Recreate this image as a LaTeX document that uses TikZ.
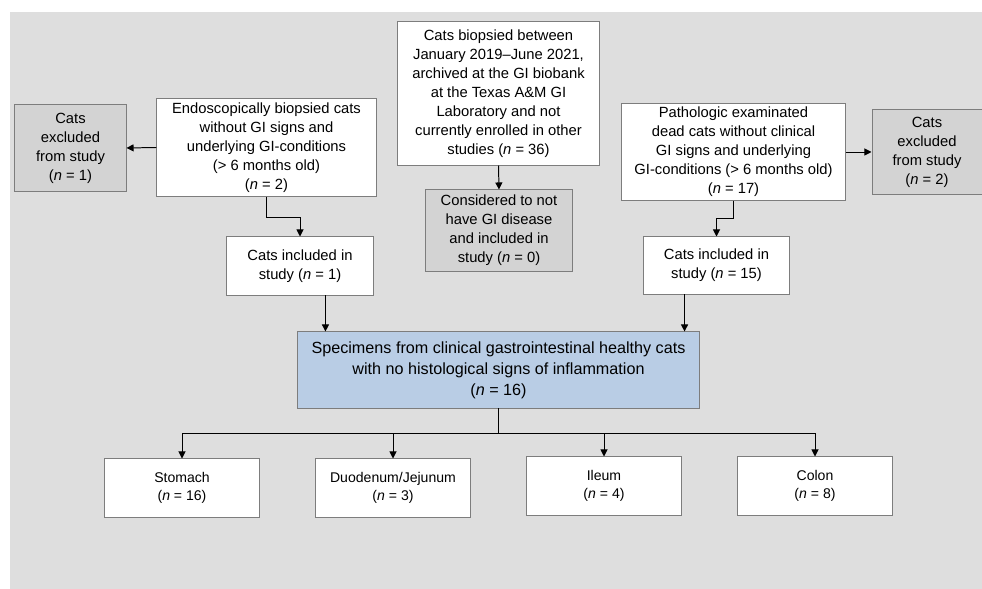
\documentclass[tikz,border=0pt]{standalone}
\usepackage{fontspec}
\setmainfont{Liberation Sans}
\usetikzlibrary{arrows.meta, calc, positioning}
\definecolor{bg_gray}{RGB}{222,222,222}
\definecolor{box_gray}{RGB}{211,211,211}
\definecolor{box_blue}{RGB}{185,205,229}
\definecolor{line_gray}{RGB}{125,125,125}

\begin{document}
\begin{tikzpicture}[x=0.025cm, y=-0.025cm, >={Triangle[length=5pt, width=5pt]},
    every node/.style={rectangle, draw=line_gray, line width=0.7pt, inner sep=0pt, align=center, font=\fontsize{10.5}{13.5}\selectfont},
    whitebox/.style={fill=white},
    greybox/.style={fill=box_gray},
    specbox/.style={fill=box_blue, font=\fontsize{11.5}{15}\selectfont},
    organbox/.style={fill=white, minimum width=3.85cm, minimum height=1.45cm, font=\fontsize{10}{13}\selectfont}]
      \useasboundingbox (0,0) rectangle (982,589);
      \fill[bg_gray] (10,12) rectangle (982,589);
      % left branch
      \node[greybox, minimum width=2.775cm, minimum height=2.15cm] (exL) at (70.5,148) {Cats\\excluded\\from study\\(\textit{n} = 1)};
      \node[whitebox, minimum width=5.475cm, minimum height=2.425cm] (endo) at (266.5,147.5) {Endoscopically biopsied cats\\without GI signs and\\underlying GI-conditions\\(> 6 months old)\\(\textit{n} = 2)};
      \node[whitebox, minimum width=3.65cm, minimum height=1.45cm] (incL) at (300,266) {Cats included in\\study (\textit{n} = 1)};
      % middle branch
      \node[whitebox, minimum width=5.025cm, minimum height=3.575cm] (top) at (498.5,93.5) {Cats biopsied between\\January 2019–June 2021,\\archived at the GI biobank\\at the Texas A\&M GI\\Laboratory and not\\currently enrolled in other\\studies (\textit{n} = 36)};
      \node[greybox, minimum width=3.65cm, minimum height=2.025cm] (cons) at (499,230.5) {Considered to not\\have GI disease\\and included in\\study (\textit{n} = 0)};
      % right branch
      \node[whitebox, minimum width=5.575cm, minimum height=2.4cm] (path) at (733.5,152) {Pathologic examinated\\dead cats without clinical\\GI signs and underlying\\GI-conditions (> 6 months old)\\(\textit{n} = 17)};
      \node[greybox, minimum width=2.75cm, minimum height=2.1cm] (exR) at (927,152) {Cats\\excluded\\from study\\(\textit{n} = 2)};
      \node[whitebox, minimum width=3.625cm, minimum height=1.425cm] (incR) at (716.5,265.5) {Cats included in\\study (\textit{n} = 15)};
      % pooled specimens
      \node[specbox, minimum width=10.025cm, minimum height=1.9cm] (spec) at (498.5,370) {Specimens from clinical gastrointestinal healthy cats\\with no histological signs of inflammation\\(\textit{n} = 16)};
      \node[organbox] (stomach) at (182,488) {Stomach\\(\textit{n} = 16)};
      \node[organbox] (duodenum) at (393,488) {Duodenum/Jejunum\\(\textit{n} = 3)};
      \node[organbox] (ileum) at (604,486) {Ileum\\(\textit{n} = 4)};
      \node[organbox] (colon) at (815,486) {Colon\\(\textit{n} = 8)};

      \draw[->, line width=0.7pt] (endo.west) -- (exL.east);
      \draw[->, line width=0.7pt] (endo.south) -- ++(0,21) -| (incL.north);
      \draw[->, line width=0.7pt] (top.south) -- (cons.north);
      \draw[->, line width=0.7pt] (path.east) -- (exR.west);
      \draw[->, line width=0.7pt] (path.south) -- ++(0,18) -| (incR.north);
      \coordinate (specL) at ($(spec.north west)+(28,0)$);
      \coordinate (specR) at ($(spec.north east)+(-15,0)$);
      \draw[->, line width=0.7pt] (incL.south -| specL) -- (specL);
      \draw[->, line width=0.7pt] (incR.south -| specR) -- (specR);
      \draw[line width=0.7pt] (spec.south) -- ++(0,25) coordinate (fork);
      \foreach \organ in {stomach, duodenum, ileum, colon}
        \draw[->, line width=0.7pt] (fork) -| (\organ.north);
    \end{tikzpicture}
\end{document}
